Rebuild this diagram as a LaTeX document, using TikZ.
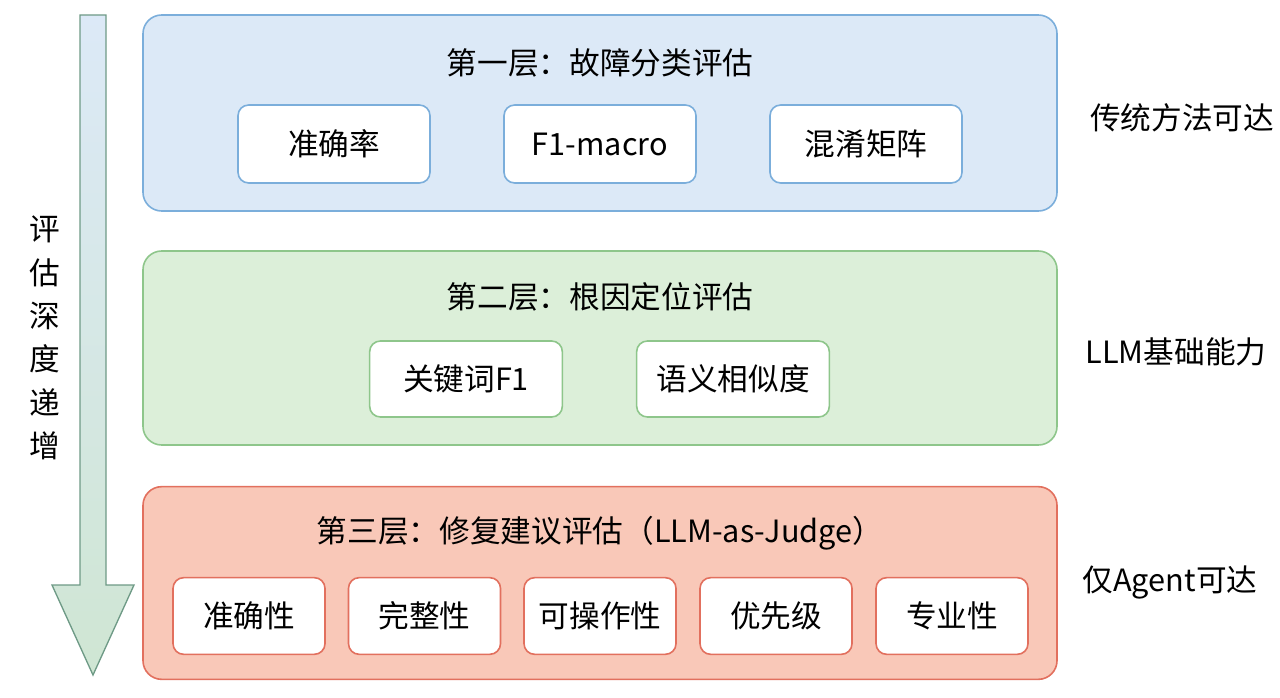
\documentclass[tikz,border=0pt]{standalone}
\usepackage{fontspec}
\setmainfont{Noto Sans CJK SC}
\begin{document}
\begin{tikzpicture}[x=0.75pt,y=-0.75pt,
  layer/.style={draw=#1!70!black,line width=1.2pt,rounded corners=14pt},
  item/.style={draw=#1,fill=white,line width=1.2pt,rounded corners=8pt,font=\fontsize{23}{26}\selectfont},
  ttl/.style={font=\fontsize{23}{26}\selectfont},
  side/.style={font=\fontsize{23}{26}\selectfont}]
\useasboundingbox (0,0) rectangle (1280,698);
\definecolor{b1}{HTML}{DCE9F7}\definecolor{b1d}{HTML}{7BAEDB}
\definecolor{g1}{HTML}{DCEFD9}\definecolor{g1d}{HTML}{8EC68B}
\definecolor{r1}{HTML}{F9C8B8}\definecolor{r1d}{HTML}{E2705E}
\definecolor{ab}{HTML}{CFE6D3}\definecolor{ad}{HTML}{6E9A86}
% arrow
\shade[top color=b1,bottom color=ab,draw=ad,line width=1pt]
 (80,15) -- (106,15) -- (106,585) -- (134,585) -- (93,675) -- (52,585) -- (80,585) -- cycle;
\node[side,align=center,font=\fontsize{23}{32.5}\selectfont] (arrtxt) at (45,338) {评\\估\\深\\度\\递\\增};
% layer 1
\node[layer=b1d,fill=b1,draw=b1d,minimum width=685.5pt,minimum height=147pt] (L1) at (600,113) {};
\node[ttl] (T1) at (600,63) {第一层：故障分类评估};
\node[item=b1d,minimum width=144pt,minimum height=58.5pt] (a1) at (334,144) {准确率};
\node[item=b1d,minimum width=144pt,minimum height=58.5pt] (a2) at (600,144) {F1-macro};
\node[item=b1d,minimum width=144pt,minimum height=58.5pt] (a3) at (866,144) {混淆矩阵};
\node[side] (S1) at (1182,118) {传统方法可达};
% layer 2
\node[layer=g1d,fill=g1,draw=g1d,minimum width=685.5pt,minimum height=145.5pt] (L2) at (600,348) {};
\node[ttl] (T2) at (600,297) {第二层：根因定位评估};
\node[item=g1d,minimum width=144.5pt,minimum height=57pt] (b1) at (466,379) {关键词F1};
\node[item=g1d,minimum width=144.5pt,minimum height=57pt] (b2) at (733,379) {语义相似度};
\node[side] (S2) at (1176,352) {LLM基础能力};
% layer 3
\node[layer=r1d,fill=r1,draw=r1d,minimum width=685.5pt,minimum height=144.5pt] (L3) at (600,583) {};
\node[ttl] (T3) at (600,533) {第三层：修复建议评估（LLM-as-Judge）};
\foreach \x/\t [count=\i] in {249/准确性,424.5/完整性,600/可操作性,776/优先级,952/专业性}
  \node[item=r1d,minimum width=114pt,minimum height=57.5pt] (c\i) at (\x,616) {\t};
\node[side] (S3) at (1170,582) {仅Agent可达};
\end{tikzpicture}
\end{document}
